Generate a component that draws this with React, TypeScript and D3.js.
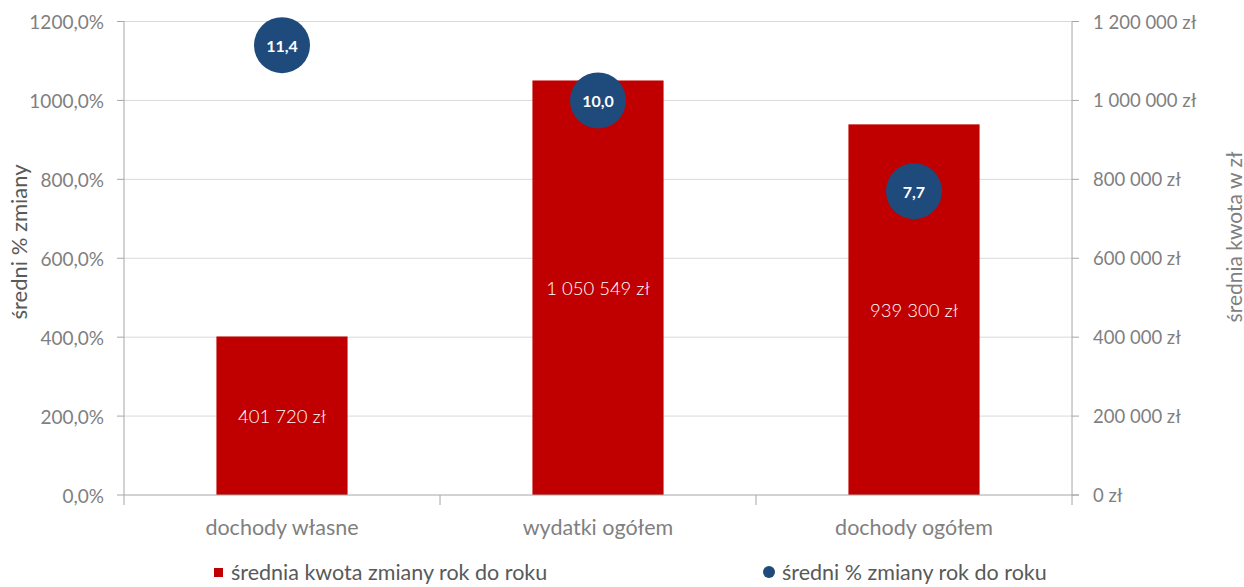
import React from "react";
import * as d3 from "d3";

const categories = ["dochody własne", "wydatki ogółem", "dochody ogółem"];
const amountValues = [401720, 1050549, 939300];
const percentValues = [11.4, 10.0, 7.7];
const percentTicks = [0, 2, 4, 6, 8, 10, 12];
const amountTicks = [0, 200000, 400000, 600000, 800000, 1000000, 1200000];

const W = 1244;
const H = 587;
const FONT = "Lato, 'Open Sans', sans-serif";

const fmtThousands = (v: number) =>
  d3.format(",.0f")(v).replace(/,/g, " ");
const fmtAmount = (v: number) => `${fmtThousands(v)} zł`;
const fmtPercentTick = (v: number) => `${(v * 100).toFixed(1).replace(".", ",")}%`;
const fmtPercentLabel = (v: number) => v.toFixed(1).replace(".", ",");

const App: React.FC = () => {
  const left = 124;
  const right = 1072;
  const top = 21.5;
  const bottom = 495;

  const x = d3.scaleBand<string>().domain(categories).range([left, right]).paddingInner(0.585).paddingOuter(0.2925);
  const xOuter = d3.scaleBand<string>().domain(categories).range([left, right]);
  const yP = d3.scaleLinear().domain([0, 12]).range([bottom, top]);
  const yA = d3.scaleLinear().domain([0, 1200000]).range([bottom, top]);

  const axisColor = "#a6a6a6";
  const tickText = "#7f7f7f";

  return (
    <svg width={W} height={H} style={{ position: "absolute", left: 0, top: 0, background: "#fff" }} fontFamily={FONT}>
      {/* gridlines */}
      {percentTicks.slice(1).map((t) => (
        <line key={t} x1={left} x2={right} y1={yP(t)} y2={yP(t)} stroke="#d9d9d9" strokeWidth={1} />
      ))}

      {/* bars */}
      {categories.map((c, i) => {
        const bx = x(c)!;
        const by = yA(amountValues[i]);
        return (
          <g key={c}>
            <rect x={bx} y={by} width={x.bandwidth()} height={bottom - by} fill="#c00000" />
            <text
              x={bx + x.bandwidth() / 2}
              y={(by + bottom) / 2}
              textAnchor="middle"
              dominantBaseline="central"
              fill="#ffffff"
              fontSize={18.5}
              fontWeight={300}
            >
              {fmtAmount(amountValues[i])}
            </text>
          </g>
        );
      })}

      {/* left axis */}
      <line x1={left} x2={left} y1={top} y2={bottom} stroke={axisColor} />
      {percentTicks.map((t) => (
        <g key={t}>
          <line x1={left - 7} x2={left} y1={yP(t)} y2={yP(t)} stroke={axisColor} />
          <text x={left - 20} y={yP(t)} textAnchor="end" dominantBaseline="central" fill={tickText} fontSize={19}>
            {fmtPercentTick(t)}
          </text>
        </g>
      ))}
      <text
        transform={`translate(18,242) rotate(-90)`}
        textAnchor="middle"
        dominantBaseline="central"
        fill="#595959"
        fontSize={22}
      >
        średni % zmiany
      </text>

      {/* right axis */}
      <line x1={right} x2={right} y1={top} y2={bottom} stroke={axisColor} />
      {amountTicks.map((t) => (
        <g key={t}>
          <line x1={right} x2={right + 7} y1={yA(t)} y2={yA(t)} stroke={axisColor} />
          <text x={right + 21} y={yA(t)} textAnchor="start" dominantBaseline="central" fill={tickText} fontSize={18.5}>
            {fmtAmount(t)}
          </text>
        </g>
      ))}
      <text
        transform={`translate(1233,237) rotate(-90)`}
        textAnchor="middle"
        dominantBaseline="central"
        fill="#7f7f7f"
        fontSize={21}
      >
        średnia kwota w zł
      </text>

      {/* bottom axis */}
      <line x1={left} x2={right + 7} y1={bottom} y2={bottom} stroke={axisColor} />
      {[...categories.map((c) => xOuter(c)!), right].map((tx, i) => (
        <line key={i} x1={tx} x2={tx} y1={bottom} y2={bottom + 10} stroke={axisColor} />
      ))}
      {categories.map((c) => (
        <text
          key={c}
          x={xOuter(c)! + xOuter.bandwidth() / 2}
          y={527}
          textAnchor="middle"
          dominantBaseline="central"
          fill={tickText}
          fontSize={21.5}
        >
          {c}
        </text>
      ))}

      {/* circles */}
      {categories.map((c, i) => {
        const cx = x(c)! + x.bandwidth() / 2;
        const cy = yP(percentValues[i]);
        return (
          <g key={c}>
            <circle cx={cx} cy={cy} r={28} fill="#1f4a7c" />
            <text x={cx} y={cy} textAnchor="middle" dominantBaseline="central" fill="#ffffff" fontSize={16} fontWeight="bold">
              {fmtPercentLabel(percentValues[i])}
            </text>
          </g>
        );
      })}

      {/* legend */}
      <rect x={214} y={568} width={9} height={9} fill="#c00000" />
      <text x={231} y={572} dominantBaseline="central" fill="#595959" fontSize={21.5}>
        średnia kwota zmiany rok do roku
      </text>
      <circle cx={769} cy={572} r={6} fill="#1f4a7c" />
      <text x={782} y={572} dominantBaseline="central" fill="#595959" fontSize={21.5}>
        średni % zmiany rok do roku
      </text>
    </svg>
  );
};

export default App;
